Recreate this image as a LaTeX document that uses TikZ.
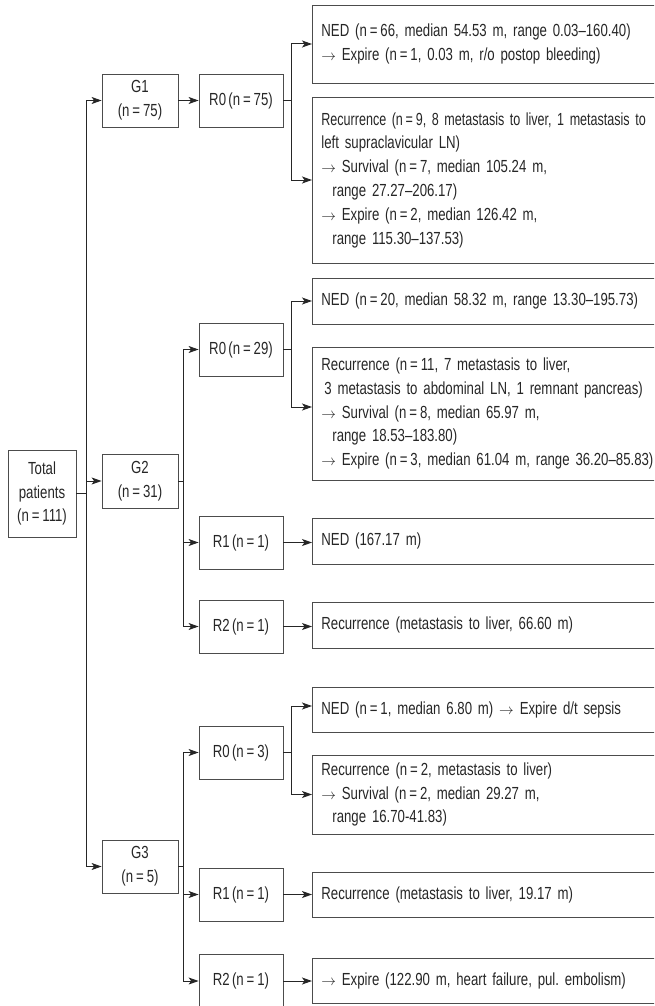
\documentclass[tikz,border=0pt]{standalone}
\usepackage{fontspec}
\setmainfont{Liberation Sans}[FakeStretch=0.755,WordSpace=0.62]
\usetikzlibrary{arrows.meta}
\newcommand\myarr{\scalebox{0.85}{$\rightarrow$}}
\newcommand\eq{\,=\,}
\begin{document}
\frenchspacing
\begin{tikzpicture}[x=1pt,y=-1pt,
  box/.style={draw=black!70, line width=0.8pt, inner sep=0pt, text=black!85,
    font=\fontsize{17.5}{23.8}\selectfont, align=center},
  gbox/.style={box, minimum width=76pt, minimum height=53pt},
  rbox/.style={box, minimum width=84pt, minimum height=53pt},
  lbox/.style={box, anchor=west, align=left, text width=400pt, inner xsep=9pt},
  conn/.style={line width=1pt, draw=black!85},
  arr/.style={conn, -{Stealth[length=10pt,width=7pt,inset=2.5pt]}}
]
\useasboundingbox (0,0) rectangle (654,1006);
\clip (0,0) rectangle (654,1006);

% left column
\node[box, minimum width=68pt, minimum height=87pt] (Tot) at (42,493.5) {Total\\patients\\(n\eq111)};
\node[gbox] (G1) at (140,100.5) {G1\\(n\eq75)};
\node[gbox, minimum height=54pt] (G2) at (140,481) {G2\\(n\eq31)};
\node[gbox] (G3) at (140,866.5) {G3\\(n\eq5)};

% resection boxes
\node[rbox] (R0a) at (241,100.5) {R0 (n\eq75)};
\node[rbox] (R0b) at (241,349.5) {R0 (n\eq29)};
\node[rbox] (R1b) at (241,542.5) {R1 (n\eq1)};
\node[rbox] (R2b) at (241,626.5) {R2 (n\eq1)};
\node[rbox] (R0c) at (241,752.5) {R0 (n\eq3)};
\node[rbox] (R1c) at (241,894.5) {R1 (n\eq1)};
\node[rbox] (R2c) at (241,981) {R2 (n\eq1)};

% outcome boxes
\node[lbox, minimum height=78pt] (A1) at (312,44) {NED (n\eq66, median 54.53 m, range 0.03–160.40)\\
\myarr{} Expire (n\eq1, 0.03 m, r/o postop bleeding)};
\node[lbox, minimum height=166pt] (A2) at (312,180) {\scalebox{0.95}[1]{Recurrence (n\eq9, 8 metastasis to liver, 1 metastasis to}\\
left supraclavicular LN)\\
\myarr{} Survival (n\eq7, median 105.24 m,\\
\hspace*{11pt}range 27.27–206.17)\\
\myarr{} Expire (n\eq2, median 126.42 m,\\
\hspace*{11pt}range 115.30–137.53)};
\node[lbox, minimum height=46pt] (B1) at (312,301) {NED (n\eq20, median 58.32 m, range 13.30–195.73)};
\node[lbox, minimum height=133pt] (B2) at (312,413.5) {Recurrence (n\eq11, 7 metastasis to liver,\\
\hspace*{3pt}3 metastasis to abdominal LN, 1 remnant pancreas)\\
\myarr{} Survival (n\eq8, median 65.97 m,\\
\hspace*{11pt}range 18.53–183.80)\\
\myarr{} Expire (n\eq3, median 61.04 m, range 36.20–85.83)};
\node[lbox, minimum height=46pt] (B3) at (312,541) {NED (167.17 m)};
\node[lbox, minimum height=46pt] (B4) at (312,625) {Recurrence (metastasis to liver, 66.60 m)};
\node[lbox, minimum height=45pt] (C1) at (312,709.5) {NED (n\eq1, median 6.80 m) \myarr{} Expire d/t sepsis};
\node[lbox, minimum height=79pt] (C2) at (312,794.5) {Recurrence (n\eq2, metastasis to liver)\\
\myarr{} Survival (n\eq2, median 29.27 m,\\
\hspace*{11pt}range 16.70-41.83)};
\node[lbox, minimum height=45pt] (C3) at (312,894.5) {Recurrence (metastasis to liver, 19.17 m)};
\node[lbox, minimum height=45pt] (C4) at (312,980.5) {\myarr{} Expire (122.90 m, heart failure, pul. embolism)};

% junction columns
\coordinate (t) at (86,0);
\coordinate (g) at (183,0);
\coordinate (r) at (291,0);

% trunk
\draw[conn] (Tot.east) -- (Tot.east -| t);
\draw[conn] (G1.west -| t) -- (G3.west -| t);
\draw[arr] (G1.west -| t) -- (G1.west);
\draw[arr] (G2.west -| t) -- (G2.west);
\draw[arr] (G3.west -| t) -- (G3.west);

% G1
\draw[arr] (G1.east) -- (R0a.west);
\draw[conn] (R0a.east) -- (R0a.east -| r);
\draw[conn] (A1.west -| r) -- (A2.west -| r);
\draw[arr] (A1.west -| r) -- (A1.west);
\draw[arr] (A2.west -| r) -- (A2.west);

% G2
\draw[conn] (G2.east) -- (G2.east -| g);
\draw[conn] (R0b.west -| g) -- (R2b.west -| g);
\draw[arr] (R0b.west -| g) -- (R0b.west);
\draw[arr] (R1b.west -| g) -- (R1b.west);
\draw[arr] (R2b.west -| g) -- (R2b.west);
\draw[conn] (R0b.east) -- (R0b.east -| r);
\coordinate (B2in) at ([yshift=6.5pt]B2.west);
\draw[conn] (B1.west -| r) -- (B2in -| r);
\draw[arr] (B1.west -| r) -- (B1.west);
\draw[arr] (B2in -| r) -- (B2in);
\draw[arr] (R1b.east) -- (R1b.east -| B3.west);
\draw[arr] (R2b.east) -- (R2b.east -| B4.west);

% G3
\draw[conn] (G3.east) -- (G3.east -| g);
\draw[conn] (R0c.west -| g) -- (R2c.west -| g);
\draw[arr] (R0c.west -| g) -- (R0c.west);
\draw[arr] (R1c.west -| g) -- (R1c.west);
\draw[arr] (R2c.west -| g) -- (R2c.west);
\draw[conn] (R0c.east) -- (R0c.east -| r);
\coordinate (C1in) at ([yshift=3.5pt]C1.west);
\draw[conn] (C1in -| r) -- (C2.west -| r);
\draw[arr] (C1in -| r) -- (C1in);
\draw[arr] (C2.west -| r) -- (C2.west);
\draw[arr] (R1c.east) -- (R1c.east -| C3.west);
\draw[arr] (R2c.east) -- (R2c.east -| C4.west);
\end{tikzpicture}
\end{document}
